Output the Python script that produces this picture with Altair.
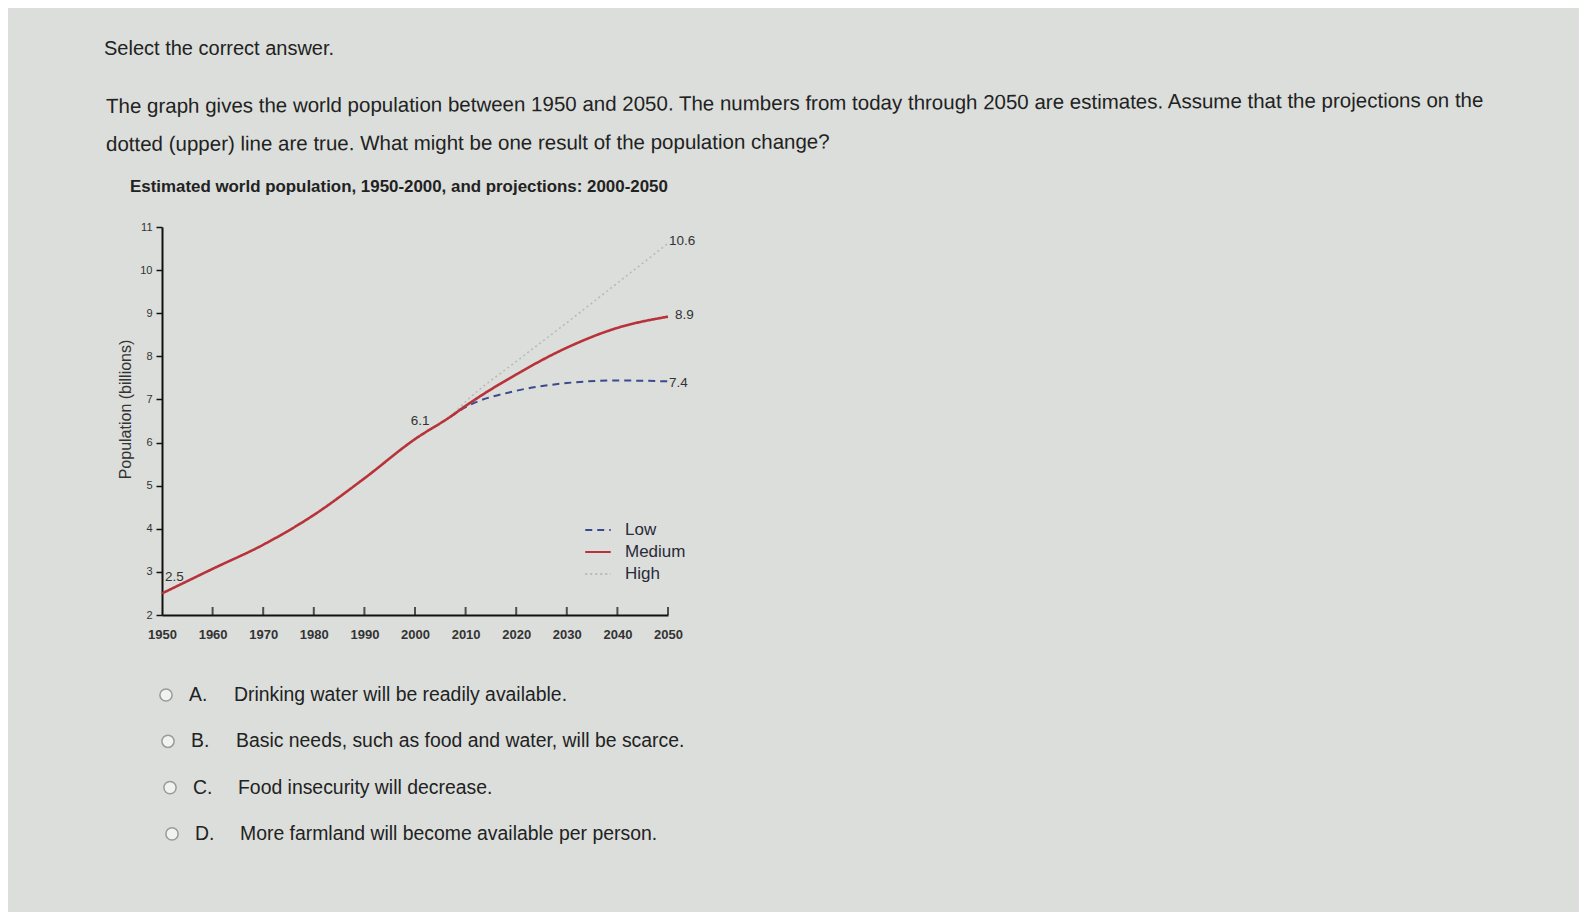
import altair as alt
import pandas as pd

# ---------------- data ----------------
years_medium = [1950, 1960, 1970, 1980, 1990, 2000, 2007, 2010, 2020, 2030, 2040, 2050]
medium = [2.5, 3.07, 3.63, 4.32, 5.17, 6.08, 6.6, 6.85, 7.58, 8.2, 8.66, 8.92]
years_proj = [2007, 2010, 2020, 2030, 2040, 2050]
low = [6.6, 6.82, 7.2, 7.38, 7.44, 7.42]
high = [6.6, 6.95, 7.88, 8.78, 9.7, 10.62]

series_names = ["Low", "Medium", "High"]
x_ticks = [1950, 1960, 1970, 1980, 1990, 2000, 2010, 2020, 2030, 2040, 2050]
y_ticks = [2, 3, 4, 5, 6, 7, 8, 9, 10, 11]

label_text = ["2.5", "10.6", "8.9", "7.4"]
label_year = [1950.6, 2050.2, 2051.4, 2050.2]
label_value = [2.88, 10.68, 8.95, 7.38]
mid_label_text = ["6.1"]
mid_label_year = [2001.0]
mid_label_value = [6.49]

header = "Select the correct answer."
question = [
    "The graph gives the world population between 1950 and 2050. The numbers from today through 2050 are estimates. Assume that the projections on the",
    "dotted (upper) line are true. What might be one result of the population change?",
]
chart_title = "Estimated world population, 1950-2000, and projections: 2000-2050"
option_letters = ["A.", "B.", "C.", "D."]
option_texts = [
    "Drinking water will be readily available.",
    "Basic needs, such as food and water, will be scarce.",
    "Food insecurity will decrease.",
    "More farmland will become available per person.",
]

# ---------------- styles ----------------
FONT = "Liberation Sans"
BG = "#dbdedb"
TXT = "#222222"
COLORS = ["#3b4a8c", "#b8323a", "#b4bbb4"]
DASHES = [[7, 5], [1, 0], [2, 3]]
W, H = 506, 388

df_med = pd.DataFrame({"year": years_medium, "value": medium, "series": "Medium"})
df_low = pd.DataFrame({"year": years_proj, "value": low, "series": "Low"})
df_high = pd.DataFrame({"year": years_proj, "value": high, "series": "High"})

xscale = alt.Scale(domain=[1950, 2050], nice=False, zero=False)
yscale = alt.Scale(domain=[2, 11], nice=False, zero=False)

legend = alt.Legend(
    orient="none", legendX=422, legendY=289, title=None,
    symbolType="stroke", symbolSize=650, symbolStrokeWidth=2,
    labelFontSize=17, labelFont=FONT, labelColor="#2a2a3a",
    rowPadding=-11, labelOffset=13,
)

x_axis = alt.Axis(values=x_ticks, format="d", ticks=False, labelPadding=13,
                  labelFontSize=13, labelFontWeight="bold", labelColor="#333333",
                  labelFont=FONT, labelFlush=False, domainColor="#111111",
                  domainWidth=2, title=None, grid=False)
y_axis = alt.Axis(values=y_ticks, tickSize=6, tickWidth=1.5, tickColor="#111111",
                  labelFontSize=11, labelPadding=4, labelColor="#333333", labelFont=FONT,
                  domainColor="#111111", domainWidth=2, grid=False,
                  title="Population (billions)", titleFontSize=16,
                  titleFontWeight="normal", titleColor="#333333", titleFont=FONT,
                  titlePadding=6, titleY=182)


def line_layer(df, width):
    return alt.Chart(df).mark_line(interpolate="monotone", strokeWidth=width).encode(
        x=alt.X("year:Q", scale=xscale, axis=x_axis),
        y=alt.Y("value:Q", scale=yscale, axis=y_axis),
        color=alt.Color("series:N", scale=alt.Scale(domain=series_names, range=COLORS), legend=legend),
        strokeDash=alt.StrokeDash("series:N", scale=alt.Scale(domain=series_names, range=DASHES), legend=legend),
    )


lines = [line_layer(df_high, 1.5), line_layer(df_low, 2), line_layer(df_med, 2.6)]

ticks = alt.Chart(pd.DataFrame({"year": x_ticks[1:]})).mark_tick(
    orient="vertical", size=8, thickness=2, color="#111111", yOffset=-4
).encode(x=alt.X("year:Q", scale=xscale), y=alt.datum(2, scale=yscale))

labels_left = alt.Chart(pd.DataFrame({"t": label_text, "year": label_year, "value": label_value})).mark_text(
    align="left", baseline="middle", fontSize=13.5, font=FONT, color="#333333"
).encode(x=alt.X("year:Q", scale=xscale), y=alt.Y("value:Q", scale=yscale), text="t:N")

labels_mid = alt.Chart(pd.DataFrame({"t": mid_label_text, "year": mid_label_year, "value": mid_label_value})).mark_text(
    align="center", baseline="middle", fontSize=13.5, font=FONT, color="#333333"
).encode(x=alt.X("year:Q", scale=xscale), y=alt.Y("value:Q", scale=yscale), text="t:N")

one = alt.Data(values=[{"a": 1}])


def free_text(txt, x, y, size, weight="normal", angle=0):
    return alt.Chart(one).mark_text(
        text=txt, align="left", baseline="middle", fontSize=size, fontWeight=weight,
        font=FONT, color=TXT, angle=angle
    ).encode(x=alt.value(x), y=alt.value(y))


texts = [
    free_text(header, -58, -178, 20),
    free_text(question[0], -56, -120, 20.5, angle=359.75),
    free_text(question[1], -56, -82, 20.5, angle=359.8),
    free_text(chart_title, -32, -40, 16.9, weight="bold"),
]

option_layers = []
for i, (letter, txt) in enumerate(zip(option_letters, option_texts)):
    yy = 468 + i * 46.3
    option_layers.append(
        alt.Chart(one).mark_point(shape="circle", size=150, filled=True, fill="#f2f2f0",
                                  stroke="#9a9a9a", strokeWidth=1.5, opacity=1)
        .encode(x=alt.value(4 + 2 * i), y=alt.value(yy))
    )
    option_layers.append(free_text(letter, 27 + 2 * i, yy, 19.4))
    option_layers.append(free_text(txt, 72 + 2 * i, yy, 19.4))

chart = alt.layer(*lines, ticks, labels_left, labels_mid, *texts, *option_layers).properties(
    width=W, height=H,
    autosize=alt.AutoSizeParams(type="none"),
    padding={"left": 154, "top": 219, "right": 911, "bottom": 297},
    background=BG,
).configure_view(stroke=None)

chart.save("out.html", embed_options={"renderer": "svg", "actions": False})
